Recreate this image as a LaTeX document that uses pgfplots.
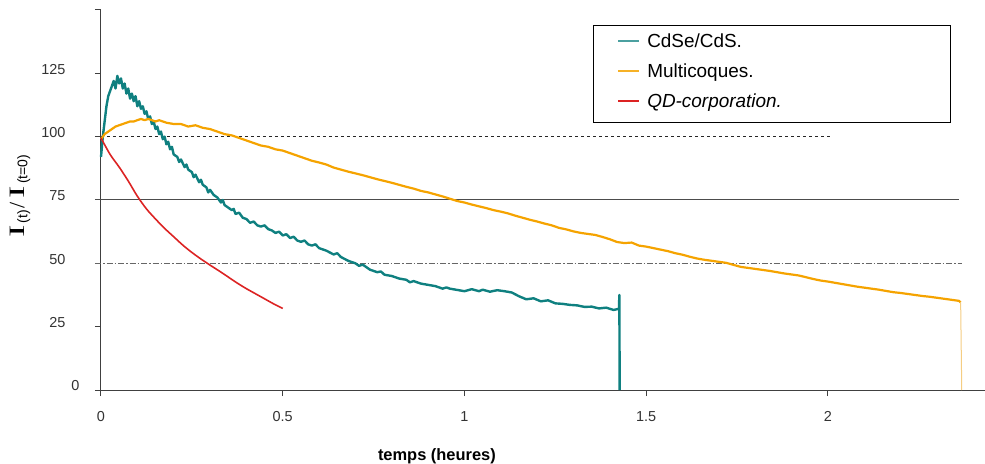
\documentclass[border=0pt]{standalone}
\usepackage{pgfplots}
\pgfplotsset{compat=1.18}
\usepackage{graphicx}
\usepackage{fontspec}
\setmainfont{Liberation Sans}
\newfontfamily\serf{Liberation Serif}

\definecolor{cteal}{RGB}{15,128,128}
\definecolor{corange}{RGB}{245,163,0}
\definecolor{cpale}{RGB}{245,205,130}
\definecolor{cred}{RGB}{220,35,35}

\pgfplotsset{
    legteal/.style={legend image code/.code={\path[draw=none, fill=none] (0bp,-8bp) rectangle (27bp,8bp); \draw[line width=1.5bp, draw=cteal!75] (0bp,2.6bp) -- (21bp,2.6bp);}},
    legorange/.style={legend image code/.code={\path[draw=none, fill=none] (0bp,-8bp) rectangle (27bp,8bp); \draw[line width=1.5bp, draw=corange!85] (0bp,2.6bp) -- (21bp,2.6bp);}},
    legred/.style={legend image code/.code={\path[draw=none, fill=none] (0bp,-8bp) rectangle (27bp,8bp); \draw[line width=2.2bp, draw=cred] (0bp,2.6bp) -- (21bp,2.6bp);}},
}
\newcommand{\legtxt}[1]{\makebox[277bp][l]{#1}}

\begin{document}
\begin{tikzpicture}
\begin{axis}[
    width=884bp, height=380bp, scale only axis,
    xmin=0, xmax=2.432, ymin=0, ymax=150,
    axis lines*=left,
    axis line style={black!75, line width=1bp},
    tick align=outside, major tick length=6bp,
    tick style={black!75, line width=1bp},
    xtick={0,0.5,1,1.5,2}, xticklabels={0,0.5,1,1.5,2},
    ytick={0,25,50,75,100,125,150},
    yticklabels={0\kern-14bp,25,50,75,100,125,{}},
    /pgf/number format/assume math mode=true,
    ticklabel style={font=\fontsize{14.5}{17}\selectfont, text=black!80},
    yticklabel style={xshift=-26bp, yshift=4bp},
    xticklabel style={yshift=-12bp},
    clip=false,
    legend cell align=left,
    legend style={at={(axis cs:1.353,144.1)}, anchor=north west,
        draw=black, line width=0.8bp, fill=white,
        inner xsep=24bp, inner ysep=3.5bp,
        font=\fontsize{19}{22}\selectfont,
        nodes={inner sep=2bp, text height=17bp, text depth=9bp}},
]

% reference levels
\addplot[forget plot, black!85, line width=0.8bp, dash pattern=on 3bp off 3bp]
    coordinates {(0,100)(2.005,100)};
\addplot[forget plot, black!70, line width=1bp]
    coordinates {(-0.016,75)(2.36,75)};
\addplot[forget plot, black!60, line width=0.8bp, dash pattern=on 6bp off 2bp on 1.5bp off 2bp]
    coordinates {(-0.016,50)(2.37,50)};

% CdSe/CdS
\addplot[cteal, line width=2.4bp, line join=round, legteal]
    coordinates {
    (0,92)(0.005,100)(0.01,106)(0.015,112)(0.02,116)(0.025,118)(0.03,120)(0.035,122)
    (0.04,119)(0.045,124)(0.05,121)(0.055,123)(0.06,119)(0.065,121)(0.07,117)(0.075,119)
    (0.08,115)(0.085,117)(0.09,114)(0.095,116)(0.10,112)(0.105,114)(0.11,111)(0.115,112)
    (0.12,109)(0.125,110)(0.13,107)(0.135,108)(0.14,105)(0.145,106)(0.15,103)(0.155,104)
    (0.16,101)(0.165,102)(0.17,99)(0.175,100)(0.18,97)(0.185,98)(0.19,95)(0.195,96)
    (0.20,93)(0.21,92)(0.215,90)(0.22,91)(0.23,88)(0.235,89)(0.24,87)(0.25,86)
    (0.255,84)(0.26,85)(0.27,82)(0.275,83)(0.28,81)(0.29,80)(0.295,78)(0.30,79)
    (0.31,77)(0.32,76)(0.33,74)(0.335,75)(0.34,73)(0.35,72)(0.36,71)(0.365,71.5)
    (0.37,69.5)(0.38,70)(0.39,68)(0.40,67.5)(0.41,66)(0.42,66.5)(0.43,65)(0.44,64.5)
    (0.45,65)(0.46,63.5)(0.47,63)(0.48,62)(0.49,62.5)(0.50,61)(0.51,61.5)(0.52,60)
    (0.53,60.5)(0.54,59)(0.55,58.5)(0.56,59)(0.57,57.5)(0.58,57)(0.59,57.5)(0.60,56)
    (0.62,55)(0.64,53.5)(0.65,54)(0.66,52.5)(0.68,51)(0.70,50)(0.71,49)(0.72,49.5)
    (0.74,47.5)(0.76,46.5)(0.77,46.8)(0.78,45.5)(0.80,45)(0.82,44)(0.84,43.5)(0.85,42.5)
    (0.86,43)(0.88,42)(0.90,41.5)(0.92,41)(0.94,40)(0.95,40.5)(0.96,40)(0.98,39.5)
    (1.00,39)(1.02,39.8)(1.04,39)(1.05,39.6)(1.07,38.8)(1.09,39.4)(1.11,39)(1.13,38.5)
    (1.15,37)(1.17,35.8)(1.19,36.2)(1.21,35)(1.23,35.4)(1.25,34.2)(1.27,34)(1.29,33.6)
    (1.31,33.4)(1.33,32.8)(1.35,32.9)(1.37,32.2)(1.39,32.5)(1.41,31.6)(1.42,31.9)
    (1.425,32)(1.426,37.5)(1.427,0)
    };
\addlegendentry{\legtxt{CdSe/CdS.}}

% Multicoques
\addplot[draw=corange, line width=2.2bp, line join=round, legorange]
    coordinates {
    (0,99)(0.01,101)(0.02,102)(0.03,103)(0.04,104)(0.05,104.5)(0.06,105)(0.07,105.5)
    (0.08,106)(0.09,106)(0.10,106.5)(0.11,107)(0.12,106.5)(0.13,107)(0.14,106.5)(0.15,106)
    (0.16,106.5)(0.18,105.5)(0.20,105)(0.22,105)(0.24,104)(0.26,104.5)(0.28,103.5)(0.30,103)
    (0.32,102)(0.34,101)(0.36,100.5)(0.38,99.5)(0.40,98.5)(0.42,97.5)(0.44,96.5)(0.46,96)
    (0.48,95)(0.50,94.5)(0.52,93.5)(0.54,92.5)(0.56,91.5)(0.58,90.5)(0.60,89.8)(0.62,89)
    (0.64,87.8)(0.66,87)(0.68,86.2)(0.70,85.5)(0.72,84.8)(0.74,84)(0.76,83.2)(0.78,82.5)
    (0.80,81.8)(0.82,81)(0.84,80.2)(0.86,79.5)(0.88,78.6)(0.90,78)(0.92,77.2)(0.94,76.4)
    (0.96,75.5)(0.98,74.6)(1.00,74)(1.02,73.2)(1.04,72.5)(1.06,71.8)(1.08,71)(1.10,70.4)
    (1.12,69.7)(1.14,68.8)(1.16,68)(1.18,67.2)(1.20,66.5)(1.22,65.7)(1.24,65)(1.26,64)
    (1.28,63.4)(1.30,62.6)(1.32,62)(1.34,61.6)(1.36,61.2)(1.38,60.4)(1.40,59.5)(1.42,58.4)
    (1.44,58)(1.46,58.2)(1.48,57)(1.50,56.6)(1.52,56)(1.54,55.4)(1.56,54.8)(1.58,54)
    (1.60,53.4)(1.62,52.6)(1.64,51.9)(1.66,51.4)(1.68,51)(1.70,50.6)(1.72,50.2)(1.74,49.4)
    (1.76,48.6)(1.78,48.2)(1.80,47.8)(1.82,47.4)(1.84,47)(1.86,46.5)(1.88,46)(1.90,45.6)
    (1.92,45.2)(1.94,44.5)(1.96,43.8)(1.98,43.2)(2.00,42.8)(2.02,42.3)(2.04,41.8)(2.06,41.3)
    (2.08,40.8)(2.10,40.4)(2.12,40)(2.14,39.6)(2.16,39.1)(2.18,38.6)(2.20,38.3)(2.22,37.9)
    (2.24,37.5)(2.26,37.1)(2.28,36.8)(2.30,36.4)(2.32,36)(2.34,35.6)(2.36,35.2)(2.365,34.6)
    };
\addlegendentry{\legtxt{Multicoques.}}
\addplot[forget plot, cpale, line width=1bp]
    coordinates {(2.365,34.6)(2.368,0)};

% QD-corporation
\addplot[cred, line width=1.6bp, smooth, legred]
    coordinates {
    (0,99.5)(0.025,93)(0.05,88)(0.075,82.5)(0.1,76.5)(0.125,71.5)(0.15,67.5)(0.175,63.8)
    (0.2,60.5)(0.225,57.2)(0.25,54.3)(0.275,51.7)(0.3,49.3)(0.325,47)(0.35,44.6)
    (0.375,42.2)(0.4,40)(0.425,38)(0.45,36)(0.475,34)(0.5,32.2)
    };
\addlegendentry{\legtxt{\itshape QD-corporation.}}

% axis titles
\node[rotate=90, anchor=center] at (rel axis cs:-0.0916,0.51)
    {\serf\fontsize{22}{22}\selectfont\scalebox{1.7}[1]{I}\kern2bp\raisebox{-3bp}{\rmfamily\fontsize{14}{14}\selectfont(t)}\kern2bp/\kern4bp\scalebox{1.7}[1]{I}\kern2bp\raisebox{-3bp}{\rmfamily\fontsize{14}{14}\selectfont(t=0)}};
\node[anchor=center, font=\bfseries\fontsize{16.5}{18}\selectfont] at (rel axis cs:0.38,-0.174)
    {temps (heures)};

\coordinate (bl) at (rel axis cs:-0.11425,-0.19211);
\coordinate (tr) at (rel axis cs:1,1.0263);
\end{axis}
\pgfresetboundingbox
\path (bl) rectangle (tr);
\end{tikzpicture}
\end{document}
